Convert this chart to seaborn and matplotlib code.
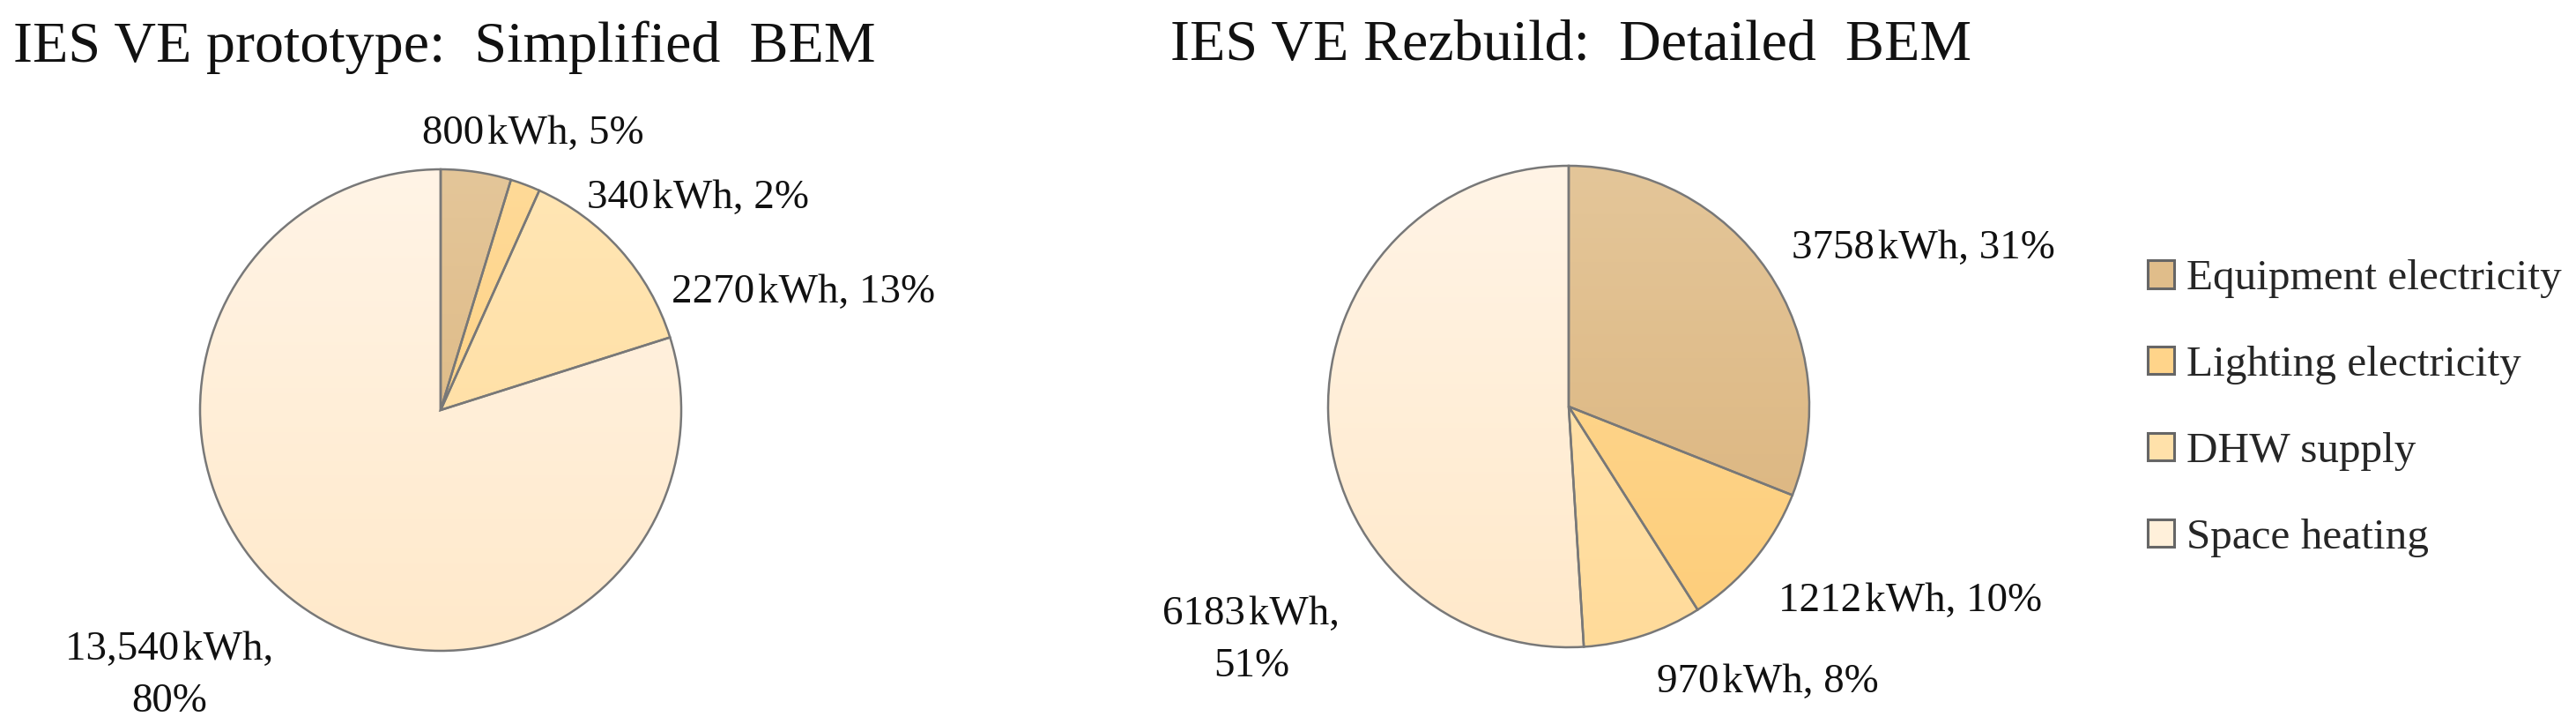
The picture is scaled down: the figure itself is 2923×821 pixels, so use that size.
import numpy as np
import matplotlib.pyplot as plt
import seaborn as sns
from matplotlib.patches import Patch

# data
categories = ['Equipment electricity', 'Lighting electricity', 'DHW supply', 'Space heating']
prototype_kwh = [800, 340, 2270, 13540]
rezbuild_kwh = [3758, 1212, 970, 6183]
titles = ['IES VE prototype:  Simplified  BEM', 'IES VE Rezbuild:  Detailed  BEM']

# colours (top / bottom of the soft vertical gradient, plus legend swatch)
fill_top = ['#E4C699', '#FFDA98', '#FFE6B5', '#FFF4E6']
fill_bottom = ['#DAB27A', '#FDCD79', '#FFDB9A', '#FFE9CA']
fill_mid = ['#E0BD8A', '#FFD48A', '#FFE1AA', '#FFF0DA']
edge_grey = '#787878'

sns.set_theme(style='white')
plt.rcParams['font.family'] = ['Liberation Serif', 'DejaVu Serif']

fig = plt.figure(figsize=(29.23, 8.21), dpi=100)
W, H = 2923, 821


def pie_axes(cx, cy, r):
    # pixel centre / radius -> figure fraction box
    return fig.add_axes([(cx - r) / W, 1 - (cy + r) / H, 2 * r / W, 2 * r / H])


def fmt(v):
    return f'{v:,}' if v >= 10000 else f'{v}'


def draw_pie(ax, values, spots):
    total = sum(values)
    wedges, _ = ax.pie(values, startangle=90, counterclock=False,
                       wedgeprops=dict(facecolor='none', edgecolor=edge_grey,
                                       linewidth=1.8, zorder=3))
    grad = np.linspace(0, 1, 256).reshape(-1, 1)
    for w, top, bot in zip(wedges, fill_top, fill_bottom):
        cmap = sns.blend_palette([bot, top], as_cmap=True)
        im = ax.imshow(grad, cmap=cmap, extent=(-1, 1, -1, 1), origin='lower',
                       aspect='auto', zorder=2)
        im.set_clip_path(w)
    for v, (x, y, ha, wrap) in zip(values, spots):
        pct = round(v / total * 100)
        sep = '\n' if wrap else ' '
        txt = f'{fmt(v)}\u200akWh,{sep}{pct}%'
        ax.text(x, y, txt, ha=ha, va='baseline', fontsize=33.8,
                linespacing=1.5, multialignment='center', color='#111111')
    ax.set_xlim(-1, 1)
    ax.set_ylim(-1, 1)
    ax.set_aspect('auto')
    ax.axis('off')


# label anchors in pie-radius units (x, baseline y of last line, alignment, two lines)
proto_spots = [(0.385, 1.106, 'center', False),
               (0.608, 0.839, 'left', False),
               (0.960, 0.447, 'left', False),
               (-1.128, -1.253, 'center', True)]
rez_spots = [(0.927, 0.615, 'left', False),
             (0.872, -0.850, 'left', False),
             (0.366, -1.187, 'left', False),
             (-1.319, -1.121, 'center', True)]

ax1 = pie_axes(500, 465, 273)
draw_pie(ax1, prototype_kwh, proto_spots)
ax2 = pie_axes(1780, 461, 273)
draw_pie(ax2, rezbuild_kwh, rez_spots)

fig.text(15 / W, 1 - 70 / H, titles[0], ha='left', va='baseline', fontsize=47.5, color='#111111')
fig.text(1328 / W, 1 - 68 / H, titles[1], ha='left', va='baseline', fontsize=47.5, color='#111111')

handles = [Patch(facecolor=c, edgecolor='#666666', linewidth=2.2) for c in fill_mid]
fig.legend(handles, categories, loc='center left', bbox_to_anchor=(2437 / W, 1 - 463 / H),
           frameon=False, fontsize=35.5, handlelength=0.6, handleheight=0.6,
           handletextpad=0.3, labelspacing=1.09, borderpad=0, borderaxespad=0)

fig.savefig('out.png', dpi=100)
